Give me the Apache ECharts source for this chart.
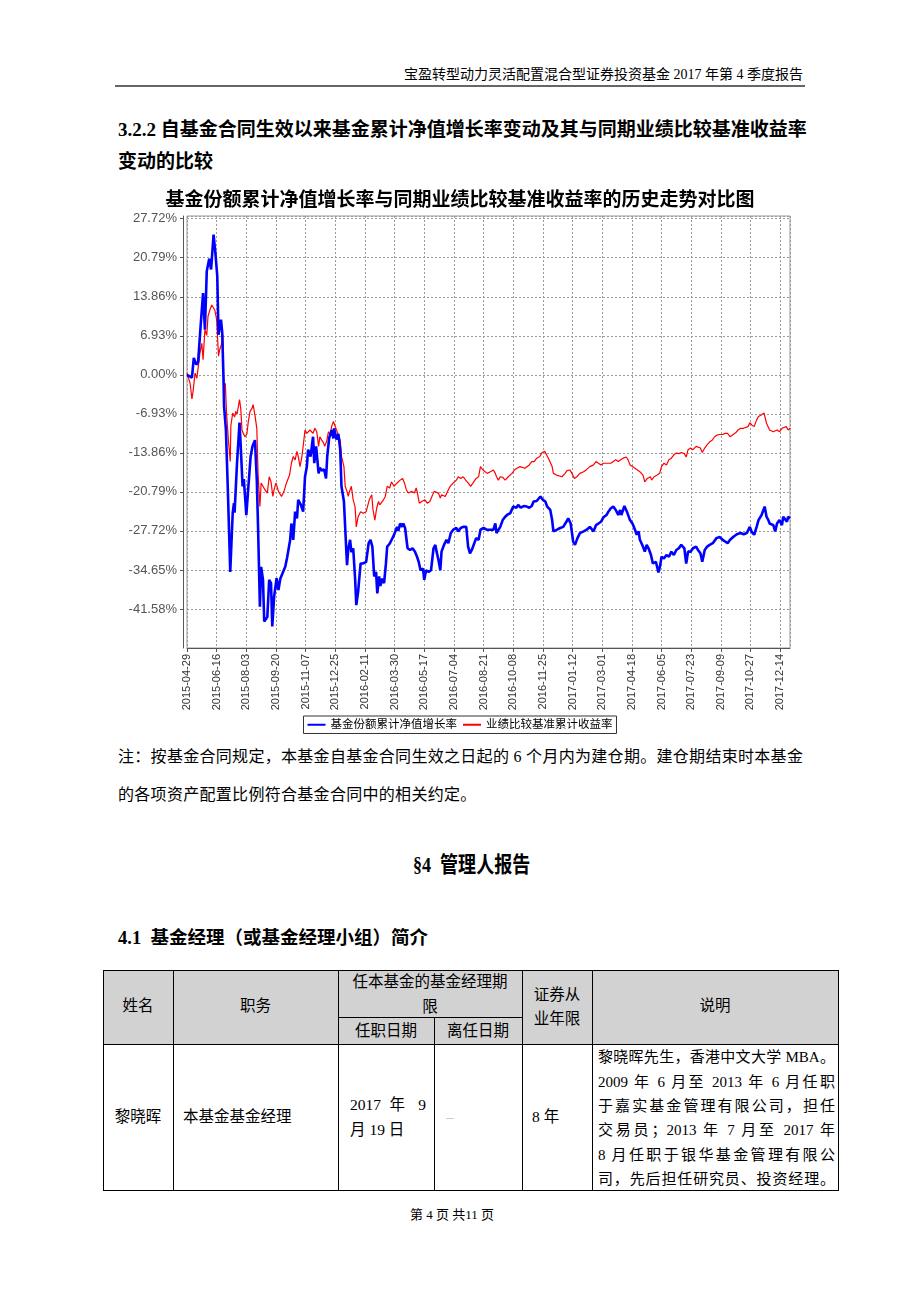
<!DOCTYPE html>
<html>
<head>
<meta charset="utf-8">
<script src="https://cdn.jsdelivr.net/npm/echarts@6/dist/echarts.min.js"></script>
<style>
html,body{margin:0;padding:0;background:#fff;}
body{width:920px;height:1302px;position:relative;overflow:hidden;font-family:"Liberation Serif","Noto Sans CJK SC",serif;color:#000;}
.t{position:absolute;white-space:nowrap;}
.c{text-align:center;}
.j{text-align:justify;text-align-last:justify;white-space:nowrap;}
.hl{position:absolute;background:#000;height:1px;}
.vl{position:absolute;background:#000;width:1px;}
#chart{position:absolute;left:100px;top:180px;width:720px;height:560px;}
.cell{font-size:15.5px;height:22px;line-height:22px;}
.desc{font-size:15px;height:22px;line-height:22px;}
</style>
</head>
<body>
<!-- page header -->
<div class="t" style="right:117px;top:65px;font-size:14px;line-height:20px;">宝盈转型动力灵活配置混合型证券投资基金 2017 年第 4 季度报告</div>
<div style="position:absolute;left:115px;top:85px;width:690px;height:2px;background:#666;"></div>

<div class="t" style="left:118px;top:118px;font-size:19px;line-height:24px;font-weight:bold;">3.2.2 自基金合同生效以来基金累计净值增长率变动及其与同期业绩比较基准收益率</div>
<div class="t" style="left:118px;top:150px;font-size:19px;line-height:24px;font-weight:bold;">变动的比较</div>

<div id="chart"></div>

<div class="t" style="left:118px;top:746px;font-size:16px;line-height:22px;letter-spacing:0.3px;">注：按基金合同规定，本基金自基金合同生效之日起的 6 个月内为建仓期。建仓期结束时本基金</div>
<div class="t" style="left:118px;top:784px;font-size:16px;line-height:22px;letter-spacing:0.3px;">的各项资产配置比例符合基金合同中的相关约定。</div>

<div class="t" style="left:413px;top:851px;font-size:22px;line-height:28px;font-weight:bold;transform:scaleX(0.82);transform-origin:0 50%;">§4&nbsp;&nbsp;管理人报告</div>

<div class="t" style="left:118px;top:926px;font-size:18.5px;line-height:24px;font-weight:bold;">4.1&nbsp;&nbsp;基金经理（或基金经理小组）简介</div>

<!-- table -->
<div style="position:absolute;left:103px;top:970px;width:735px;height:74px;background:#d2d2d2;"></div>
<div class="hl" style="left:103px;top:970px;width:736px;"></div>
<div class="hl" style="left:338px;top:1017px;width:184px;"></div>
<div class="hl" style="left:103px;top:1044px;width:736px;"></div>
<div class="hl" style="left:103px;top:1190px;width:736px;"></div>
<div class="vl" style="left:103px;top:970px;height:221px;"></div>
<div class="vl" style="left:173px;top:970px;height:221px;"></div>
<div class="vl" style="left:338px;top:970px;height:221px;"></div>
<div class="vl" style="left:434px;top:1017px;height:174px;"></div>
<div class="vl" style="left:522px;top:970px;height:221px;"></div>
<div class="vl" style="left:592px;top:970px;height:221px;"></div>
<div class="vl" style="left:838px;top:970px;height:221px;"></div>

<div class="t c cell" style="left:103px;width:70px;top:995px;">姓名</div>
<div class="t c cell" style="left:173px;width:165px;top:995px;">职务</div>
<div class="t c cell" style="left:338px;width:184px;top:971px;">任本基金的基金经理期</div>
<div class="t c cell" style="left:338px;width:184px;top:996px;">限</div>
<div class="t c cell" style="left:338px;width:96px;top:1020px;">任职日期</div>
<div class="t c cell" style="left:434px;width:88px;top:1020px;">离任日期</div>
<div class="t c cell" style="left:522px;width:70px;top:984px;">证券从</div>
<div class="t c cell" style="left:522px;width:70px;top:1008px;">业年限</div>
<div class="t c cell" style="left:592px;width:246px;top:995px;">说明</div>

<div class="t c cell" style="left:103px;width:70px;top:1106px;">黎晓晖</div>
<div class="t cell" style="left:183px;top:1106px;">本基金基金经理</div>
<div class="t j cell" style="left:350px;width:76px;top:1094px;">2017 年 9</div>
<div class="t cell" style="left:350px;top:1119px;">月 19 日</div>
<div class="t cell" style="left:446px;top:1106px;color:#aaa;">–</div>
<div class="t cell" style="left:532px;top:1106px;">8 年</div>
<div class="t j desc" style="left:598px;width:237px;top:1046px;">黎晓晖先生，香港中文大学 MBA。</div>
<div class="t j desc" style="left:598px;width:237px;top:1071px;">2009 年 6 月至 2013 年 6 月任职</div>
<div class="t j desc" style="left:598px;width:237px;top:1095px;">于嘉实基金管理有限公司，担任</div>
<div class="t j desc" style="left:598px;width:237px;top:1119px;">交易员；2013 年 7 月至 2017 年</div>
<div class="t j desc" style="left:598px;width:237px;top:1144px;">8 月任职于银华基金管理有限公</div>
<div class="t j desc" style="left:598px;width:237px;top:1168px;">司，先后担任研究员、投资经理。</div>

<div class="t" style="left:410px;top:1206px;font-size:13px;line-height:18px;white-space:pre;">第 4 页 共11 页</div>

<script>
// ---- data ----
const chartTitle = '基金份额累计净值增长率与同期业绩比较基准收益率的历史走势对比图';
const seriesNames = ['基金份额累计净值增长率', '业绩比较基准累计收益率'];
const startDate = '2015-04-29';
const xTickLabels = ['2015-04-29','2015-06-16','2015-08-03','2015-09-20','2015-11-07','2015-12-25','2016-02-11','2016-03-30','2016-05-17','2016-07-04','2016-08-21','2016-10-08','2016-11-25','2017-01-12','2017-03-01','2017-04-18','2017-06-05','2017-07-23','2017-09-09','2017-10-27','2017-12-14'];
const xTickStepDays = 48;
const xEndDay = 976;            // 2017-12-31, days since startDate
const yTickStep = 6.93;         // %
const yMin = -48.51, yMax = 28.2;

// days since 2015-04-29
const fundDay = [
 0,8,11,15,18,22,26,29,32,36,
 39,43,46,49,51,55,57,59,60,63,
 66,70,74,76,77,81,85,87,90,92,
 96,99,103,106,110,113,115,118,120,123,
 125,130,133,136,138,141,145,148,151,154,
 159,162,167,169,172,175,178,180,184,188,
 191,194,196,200,204,206,209,213,215,218,
 222,225,227,230,234,237,238,242,245,248,
 250,254,259,261,264,266,269,272,274,277,
 281,285,290,294,297,300,303,306,308,311,
 313,316,319,322,324,328,331,334,337,340,
 342,345,348,350,353,357,361,365,369,372,
 375,378,382,384,387,391,395,399,402,404,
 407,410,412,416,420,423,427,431,436,439,
 443,447,449,452,455,458,461,465,468,472,
 475,480,485,491,496,499,501,507,511,515,
 519,523,526,528,533,536,540,545,550,554,
 558,561,566,572,576,580,583,588,591,593,
 599,604,609,614,617,621,625,628,632,636,
 642,647,652,658,662,666,670,674,679,682,
 686,690,694,698,701,703,708,712,717,721,
 724,728,731,733,738,741,744,747,751,754,
 759,763,766,768,772,776,780,784,788,792,
 796,800,805,808,811,815,819,824,827,831,
 834,838,842,846,851,857,862,867,871,875,
 879,885,890,896,901,906,911,914,918,922,
 925,928,930,933,935,938,941,943,946,949,
 952,955,959,963,965,968,971,973,976];
const fundValue = [
 0.0,-0.5,3.0,1.8,2.3,8.6,14.5,8.0,18.4,20.6,
 18.7,24.9,21.6,17.5,7.1,9.8,7.5,-0.3,-5.6,-9.8,
 -20.0,-35.0,-24.5,-22.8,-24.5,-15.6,-8.5,-12.7,-19.8,-18.5,
 -24.9,-20.4,-14.5,-12.7,-11.6,-18.7,-27.0,-41.2,-34.1,-36.4,
 -43.8,-43.0,-36.4,-37.0,-44.7,-39.4,-36.1,-38.2,-36.2,-36.5,
 -34.1,-32.5,-29.3,-26.4,-29.3,-24.3,-25.5,-22.2,-23.0,-24.3,
 -18.1,-16.3,-13.3,-14.5,-11.0,-15.7,-12.7,-17.5,-16.5,-17.0,
 -16.8,-18.4,-14.5,-11.3,-9.8,-11.3,-9.5,-11.5,-10.5,-13.3,
 -19.8,-22.5,-33.8,-31.0,-29.3,-31.5,-30.8,-36.0,-40.9,-38.5,
 -33.5,-33.5,-33.2,-29.9,-29.3,-30.5,-35.8,-35.0,-38.8,-35.8,
 -37.5,-36.2,-37.0,-33.5,-30.5,-30.0,-30.2,-28.7,-28.4,-27.0,
 -27.7,-26.4,-27.0,-26.4,-27.2,-30.8,-31.1,-30.8,-31.4,-32.2,
 -33.2,-34.7,-34.4,-36.4,-34.7,-35.0,-34.7,-30.8,-30.2,-31.4,
 -32.9,-34.7,-31.4,-30.2,-29.3,-29.9,-28.1,-27.5,-27.2,-27.8,
 -27.2,-27.0,-27.2,-27.0,-30.5,-31.7,-31.1,-29.9,-29.0,-29.3,
 -27.5,-27.2,-27.5,-27.5,-27.5,-26.4,-28.1,-27.0,-25.8,-25.2,
 -24.8,-24.6,-24.3,-23.4,-23.6,-23.1,-23.6,-23.3,-23.4,-23.6,
 -23.3,-22.5,-22.4,-21.6,-22.2,-22.5,-23.4,-24.0,-25.8,-27.8,
 -27.5,-27.2,-27.0,-26.1,-25.5,-26.4,-29.6,-30.2,-29.0,-28.1,
 -27.8,-27.5,-27.0,-27.8,-26.7,-26.4,-26.1,-25.3,-24.9,-24.3,
 -23.7,-23.4,-24.0,-24.9,-24.0,-24.9,-23.3,-24.3,-25.8,-26.4,
 -27.2,-28.4,-27.8,-29.3,-30.5,-31.4,-30.2,-30.8,-32.0,-33.5,
 -33.2,-35.1,-33.8,-32.3,-32.6,-32.0,-32.3,-31.4,-32.0,-31.1,
 -30.8,-30.2,-30.8,-33.5,-31.4,-31.4,-30.8,-30.5,-31.1,-31.7,
 -33.2,-31.1,-30.5,-30.2,-29.9,-29.0,-28.8,-29.3,-29.6,-29.9,
 -29.3,-28.7,-28.3,-28.1,-28.3,-28.1,-27.0,-27.9,-28.4,-27.0,
 -25.8,-26.1,-24.9,-24.6,-23.4,-25.2,-25.8,-26.4,-26.1,-26.7,
 -27.8,-26.4,-25.8,-26.7,-25.2,-25.5,-26.1,-25.2,-25.5];

const benchDay = [
 0,5,8,10,13,16,18,21,24,26,
 29,32,34,37,40,43,45,48,51,53,
 56,58,59,60,62,64,67,70,71,74,
 77,79,81,85,87,89,91,94,97,99,
 102,105,107,110,113,115,118,120,123,126,
 130,133,136,139,141,144,148,151,153,157,
 161,166,169,172,175,178,180,183,186,188,
 191,194,196,199,202,204,207,210,213,215,
 218,221,223,226,229,232,234,237,240,242,
 245,248,250,254,256,259,261,264,266,269,
 272,274,277,281,285,290,295,299,301,304,
 307,310,312,315,318,321,324,328,331,335,
 340,342,345,349,352,355,358,364,368,371,
 373,376,380,383,385,389,393,396,400,403,
 407,410,412,415,418,420,423,426,431,436,
 439,443,447,451,455,459,463,468,472,475,
 479,482,486,491,496,499,501,504,507,511,
 515,520,526,530,534,539,542,547,550,554,
 558,562,566,571,574,579,582,586,588,591,
 593,598,601,607,612,615,620,623,627,631,
 636,642,647,652,658,662,666,670,674,679,
 682,686,690,694,698,702,706,711,714,717,
 721,725,729,733,738,741,745,750,752,756,
 761,765,768,772,776,780,784,788,792,796,
 800,805,808,811,815,819,824,827,831,834,
 838,842,846,850,854,858,862,867,871,875,
 879,884,888,892,896,901,904,908,911,914,
 918,922,925,928,930,934,935,938,941,943,
 946,949,952,955,959,963,965,970,973,976];
const benchValue = [
 0.3,-1.5,-4.3,-2.8,0.3,-0.6,-0.4,3.9,5.6,2.7,
 8.0,7.0,10.4,11.5,12.4,12.7,11.5,9.8,3.3,4.5,
 5.5,7.1,-0.3,-2.5,-1.5,-6.8,-11.6,-15.4,-9.0,-6.8,
 -7.5,-6.5,-7.0,-4.4,-6.0,-9.8,-10.4,-11.0,-10.5,-8.5,
 -6.5,-6.0,-5.3,-7.2,-9.5,-17.5,-23.4,-19.2,-19.8,-20.4,
 -21.0,-18.1,-19.0,-21.6,-20.4,-19.2,-20.7,-20.4,-21.6,-20.7,
 -19.2,-17.8,-15.7,-14.5,-15.1,-13.6,-14.5,-16.3,-14.5,-12.7,
 -9.8,-10.4,-10.7,-9.8,-9.8,-10.4,-9.5,-10.1,-12.7,-11.0,
 -11.6,-12.1,-12.7,-11.8,-10.1,-10.7,-9.2,-8.3,-9.2,-9.8,
 -10.1,-11.6,-14.5,-16.3,-19.8,-20.7,-21.6,-20.4,-19.8,-22.2,
 -23.4,-27.0,-25.2,-24.3,-24.6,-24.3,-22.2,-21.3,-23.9,-25.8,
 -23.7,-22.5,-23.1,-23.4,-22.2,-21.6,-19.8,-20.1,-19.0,-19.8,
 -19.2,-19.0,-18.7,-18.4,-19.2,-20.4,-21.0,-20.7,-21.0,-20.1,
 -21.0,-22.8,-22.5,-22.8,-22.2,-22.8,-22.5,-22.8,-20.7,-20.4,
 -21.0,-21.9,-21.3,-21.0,-21.6,-21.3,-20.4,-19.8,-19.2,-18.7,
 -18.1,-18.4,-18.1,-18.7,-19.2,-19.8,-19.2,-18.4,-18.1,-16.3,
 -16.9,-17.2,-17.5,-17.2,-16.9,-17.5,-18.1,-18.7,-18.1,-18.2,
 -18.7,-18.1,-17.5,-16.9,-16.6,-16.3,-16.0,-16.6,-16.3,-16.0,
 -15.4,-15.4,-14.8,-14.5,-13.9,-13.6,-14.2,-15.1,-15.4,-16.3,
 -17.5,-17.8,-18.1,-18.1,-17.5,-17.0,-16.9,-17.5,-18.4,-18.1,
 -17.5,-17.2,-16.8,-16.3,-16.0,-15.4,-15.7,-16.0,-15.7,-15.7,
 -15.4,-15.7,-15.4,-15.1,-15.4,-15.1,-14.8,-14.6,-15.1,-16.0,
 -16.3,-16.6,-16.9,-17.2,-17.8,-19.0,-18.4,-18.1,-18.7,-18.1,
 -17.8,-17.5,-16.3,-15.7,-16.0,-15.1,-14.8,-14.2,-13.9,-14.0,
 -13.8,-14.0,-14.6,-13.3,-13.0,-13.3,-12.7,-12.4,-13.0,-13.8,
 -13.0,-12.4,-11.9,-11.6,-11.0,-10.7,-10.6,-10.6,-10.4,-10.4,
 -11.0,-10.6,-10.3,-9.8,-9.5,-9.5,-9.5,-9.2,-8.5,-8.9,
 -9.2,-8.0,-7.4,-7.7,-7.1,-6.8,-6.7,-8.6,-8.3,-9.8,
 -9.5,-10.1,-10.4,-9.8,-10.1,-9.5,-9.8,-9.2,-9.8,-9.5];

// ---- chart ----
const fundData = fundDay.map((d, i) => [d, fundValue[i]]);
const benchData = benchDay.map((d, i) => [d, benchValue[i]]);
const gridLine = {show: true, lineStyle: {color: '#9a9a9a', width: 1, type: [2, 2]}};

const chart = echarts.init(document.getElementById('chart'), null, {renderer: 'canvas'});
chart.setOption({
  animation: false,
  backgroundColor: '#ffffff',
  title: {
    text: chartTitle, left: 'center', top: 4,
    textStyle: {fontFamily: '"Noto Sans CJK SC"', fontWeight: 'bold', fontSize: 19, color: '#000'}
  },
  legend: {
    data: seriesNames, top: 536, left: 'center', icon: 'rect',
    itemWidth: 18, itemHeight: 2, itemGap: 6, padding: [3, 4, 3, 4],
    borderColor: '#333', borderWidth: 1,
    textStyle: {fontFamily: '"Liberation Serif","Noto Sans CJK SC"', fontSize: 11.5, color: '#000'}
  },
  grid: {left: 87, top: 36, width: 603, height: 432, show: true, borderColor: '#999', borderWidth: 1},
  xAxis: {
    type: 'value', min: 0, max: xEndDay, interval: xTickStepDays,
    axisLine: {show: true, onZero: false, lineStyle: {color: '#555'}},
    axisTick: {show: true, length: 4, lineStyle: {color: '#555'}},
    axisLabel: {
      rotate: 90, fontSize: 11, fontFamily: '"Liberation Sans"', color: '#333', margin: 6,
      showMaxLabel: false, showMinLabel: true,
      formatter: function (v) {
        const k = v / xTickStepDays;
        return Math.abs(k - Math.round(k)) < 1e-6 ? (xTickLabels[Math.round(k)] || '') : '';
      }
    },
    splitLine: gridLine
  },
  yAxis: {
    type: 'value', min: yMin, max: yMax, interval: yTickStep, offset: 4,
    axisLine: {show: true, onZero: false, lineStyle: {color: '#555'}},
    axisTick: {show: true, length: 3, lineStyle: {color: '#555'}},
    axisLabel: {
      fontSize: 13, fontFamily: '"Liberation Sans"', color: '#555', margin: 6,
      showMinLabel: false, showMaxLabel: false,
      formatter: function (v) { return (Math.abs(v) < 1e-9 ? 0 : v).toFixed(2) + '%'; }
    },
    splitLine: gridLine
  },
  series: [
    {name: seriesNames[0], type: 'line', data: fundData, showSymbol: false, symbol: 'none',
     itemStyle: {color: '#0000ff'}, lineStyle: {color: '#0000ff', width: 2.6}, z: 3},
    {name: seriesNames[1], type: 'line', data: benchData, showSymbol: false, symbol: 'none',
     itemStyle: {color: '#ff0000'}, lineStyle: {color: '#ff0000', width: 1.2}, z: 2}
  ]
});
</script>
</body>
</html>
